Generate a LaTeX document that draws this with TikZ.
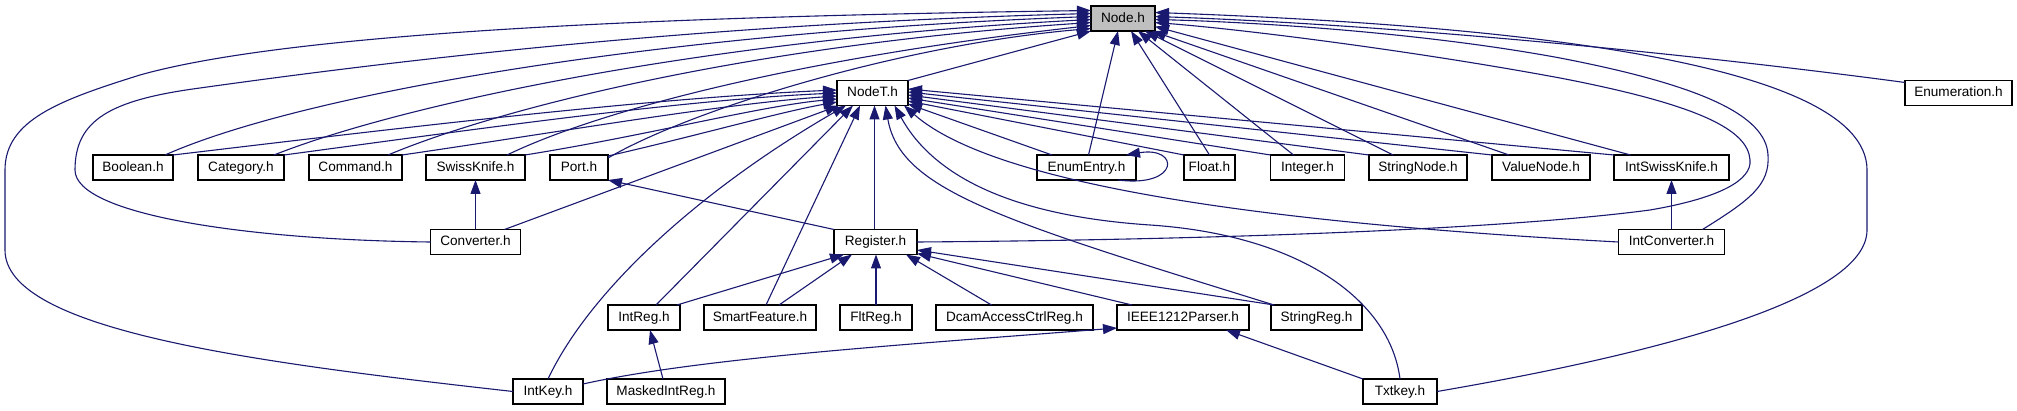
\documentclass[tikz,border=0pt]{standalone}
\usepackage{fontspec}
\setmainfont{Liberation Sans}
\usetikzlibrary{arrows.meta,calc}
\definecolor{edgecol}{HTML}{191970}
\definecolor{rootfill}{HTML}{BFBFBF}
\begin{document}
\begin{tikzpicture}[x=1pt,y=-1pt,
  box/.style={draw=black,line width=1.5pt,fill=white,minimum height=25pt,inner sep=0pt,outer sep=0pt,
    text height=9.8pt,text depth=2.6pt,font=\fontsize{13.6}{16}\selectfont},
  dep/.style={draw=edgecol,line width=1.1pt,-{Triangle[length=14pt,width=10pt]}}]
\fill[white] (0,0) rectangle (2017,411);
\useasboundingbox (0,0) rectangle (2017,411);
% nodes
\node[box,fill=rootfill,minimum width=64pt] (nodeh) at (1123,18.5) {Node.h};
\node[box,minimum width=71pt] (nodet) at (872.5,93) {NodeT.h};
\node[box,minimum width=107pt] (enumeration) at (1958.5,93) {Enumeration.h};
\node[box,minimum width=80pt] (boolean) at (133,167.5) {Boolean.h};
\node[box,minimum width=86pt] (category) at (241,167.5) {Category.h};
\node[box,minimum width=93pt] (command) at (355.5,167.5) {Command.h};
\node[box,minimum width=99pt] (swissknife) at (475.5,167.5) {SwissKnife.h};
\node[box,minimum width=58pt] (port) at (579,167.5) {Port.h};
\node[box,minimum width=99pt] (enumentry) at (1086.5,167.5) {EnumEntry.h};
\node[box,minimum width=51pt] (float) at (1209.5,167.5) {Float.h};
\node[box,minimum width=74pt] (integer) at (1307.5,167.5) {Integer.h};
\node[box,minimum width=98pt] (stringnode) at (1418,167.5) {StringNode.h};
\node[box,minimum width=98pt] (valuenode) at (1541,167.5) {ValueNode.h};
\node[box,minimum width=115pt] (intsk) at (1671.5,167.5) {IntSwissKnife.h};
\node[box,minimum width=90pt] (converter) at (475.5,242) {Converter.h};
\node[box,minimum width=83pt] (register) at (875.5,242) {Register.h};
\node[box,minimum width=106pt] (intconv) at (1671.5,242) {IntConverter.h};
\node[box,minimum width=72pt] (intreg) at (644,317.5) {IntReg.h};
\node[box,minimum width=112pt] (smartfeature) at (760,317.5) {SmartFeature.h};
\node[box,minimum width=72pt] (fltreg) at (876,317.5) {FltReg.h};
\node[box,minimum width=157pt] (dcam) at (1014.5,317.5) {DcamAccessCtrlReg.h};
\node[box,minimum width=132pt] (ieee) at (1183,317.5) {IEEE1212Parser.h};
\node[box,minimum width=91pt] (stringreg) at (1316.5,317.5) {StringReg.h};
\node[box,minimum width=70pt] (intkey) at (548,391.5) {IntKey.h};
\node[box,minimum width=118pt] (masked) at (666,391.5) {MaskedIntReg.h};
\node[box,minimum width=74pt] (txtkey) at (1400,391.5) {Txtkey.h};
% edges into Node.h from the left
\draw[dep] (intkey.west) .. controls (250,362) and (5,330) .. (5,250) -- (5,170) .. controls (5,120) and (60,100) .. (140,75) .. controls (300,30) and (700,16) .. ($(nodeh.west)+(0,-8)$);
\draw[dep] (converter.west) .. controls (250,240) and (75,215) .. (75,170) .. controls (75,120) and (110,100) .. (200,88) .. controls (400,60) and (700,24) .. ($(nodeh.west)+(0,-5)$);
\draw[dep] ($(boolean.north east)+(-8,0)$) .. controls (300,95) and (650,33) .. ($(nodeh.west)+(0,-2)$);
\draw[dep] ($(category.north east)+(-10,0)$) .. controls (400,105) and (700,40) .. ($(nodeh.west)+(0,1)$);
\draw[dep] ($(command.north east)+(-14,0)$) .. controls (500,108) and (750,45) .. ($(nodeh.west)+(0,4)$);
\draw[dep] ($(swissknife.north east)+(-18,0)$) .. controls (600,110) and (800,58) .. ($(nodeh.west)+(0,7)$);
\draw[dep] ($(port.north east)+(0,3)$) .. controls (690,110) and (900,45) .. ($(nodeh.west)+(0,10)$);
\draw[dep] (nodet.north east) -- (nodeh.south west);
% edges into Node.h from below / right
\draw[dep] ($(enumentry.north)+(2,0)$) -- ($(nodeh.south)+(-5,0)$);
\draw[dep] (float.north) -- ($(nodeh.south)+(8,0)$);
\draw[dep] ($(integer.north)+(-14,0)$) -- ($(nodeh.south)+(15,0)$);
\draw[dep] ($(stringnode.north)+(-25,0)$) -- ($(nodeh.south)+(22,0)$);
\draw[dep] ($(valuenode.north)+(-32,0)$) -- ($(nodeh.south east)+(-3,0)$);
\draw[dep] ($(intsk.north)+(-41,0)$) -- ($(nodeh.east)+(0,8)$);
\draw[dep] (register.east) .. controls (1200,240) and (1500,230) .. (1650,210) .. controls (1720,198) and (1752,180) .. (1750,160) .. controls (1748,130) and (1700,105) .. (1560,78) .. controls (1420,52) and (1250,30) .. ($(nodeh.east)+(0,4)$);
\draw[dep] ($(intconv.north east)+(-22,0)$) .. controls (1750,200) and (1770,185) .. (1768,155) .. controls (1766,115) and (1700,85) .. (1560,58) .. controls (1420,32) and (1250,22) .. ($(nodeh.east)+(0,1)$);
\draw[dep] (txtkey.east) .. controls (1650,355) and (1867,300) .. (1867,230) -- (1867,170) .. controls (1867,60) and (1500,25) .. ($(nodeh.east)+(0,-6)$);
\draw[dep] ($(enumeration.north west)+(0,2)$) .. controls (1700,55) and (1400,25) .. ($(nodeh.east)+(0,-2)$);
% edges into NodeT.h from the left
\draw[dep] (boolean.north east) .. controls (400,128) and (650,98) .. ($(nodet.west)+(0,-3)$);
\draw[dep] (category.north east) .. controls (470,130) and (680,100) .. (nodet.west);
\draw[dep] (command.north east) .. controls (560,132) and (720,104) .. ($(nodet.west)+(0,3)$);
\draw[dep] (swissknife.north east) .. controls (650,135) and (760,106) .. ($(nodet.west)+(0,6)$);
\draw[dep] ($(port.north east)+(0,1)$) .. controls (700,135) and (780,112) .. ($(nodet.west)+(0,9)$);
\draw[dep] ($(converter.north east)+(-16,0)$) -- ($(nodet.south west)+(2,0)$);
% edges into NodeT.h from below
\draw[dep] (intkey.north) .. controls (590,290) and (700,190) .. ($(nodet.south west)+(9,0)$);
\draw[dep] ($(intreg.north east)+(-24,0)$) -- ($(nodet.south west)+(16,0)$);
\draw[dep] ($(smartfeature.north)+(6,0)$) -- ($(nodet.south west)+(23,0)$);
\draw[dep] ($(register.north)+(-1,0)$) -- ($(register.north |- nodet.south)+(-1,0)$);
\draw[dep] ($(stringreg.north west)+(3,0)$) .. controls (1000,220) and (900,190) .. ($(nodet.south)+(13,0)$);
\draw[dep] (txtkey.north) .. controls (1390,300) and (1300,235) .. (1150,225) .. controls (1000,215) and (930,170) .. ($(nodet.south)+(22,0)$);
\draw[dep] (intconv.west) .. controls (1300,225) and (1000,190) .. ($(nodet.south east)+(-4,0)$);
% edges into NodeT.h from the right
\draw[dep] ($(enumentry.north west)+(15,0)$) -- ($(nodet.east)+(0,11)$);
\draw[dep] (float.north west) -- ($(nodet.east)+(0,8)$);
\draw[dep] (integer.north west) -- ($(nodet.east)+(0,5)$);
\draw[dep] (stringnode.north west) -- ($(nodet.east)+(0,2)$);
\draw[dep] (valuenode.north west) -- ($(nodet.east)+(0,-1)$);
\draw[dep] (intsk.north west) -- ($(nodet.east)+(0,-4)$);
% self loop
\draw[dep] ($(enumentry.south east)+(-18,0)$) .. controls (1180,188) and (1180,146) .. ($(enumentry.north east)+(-10,0)$);
% edges into Register.h
\draw[dep] ($(intreg.north east)+(-3,0)$) -- ($(register.south west)+(10,0)$);
\draw[dep] ($(smartfeature.north)+(19,0)$) -- ($(register.south west)+(18,0)$);
\draw[dep] (fltreg.north) -- (fltreg.north |- register.south);
\draw[dep] ($(dcam.north)+(-23,0)$) -- ($(register.south east)+(-11,0)$);
\draw[dep] ($(ieee.north west)+(15,0)$) -- ($(register.south east)+(0,-1)$);
\draw[dep] ($(stringreg.north west)+(3,0)$) -- ($(register.east)+(0,8)$);
% remaining edges
\draw[dep] ($(masked.north)+(-3,0)$) -- ($(intreg.south)+(6,0)$);
\draw[dep] ($(intkey.north east)+(0,5)$) .. controls (700,358) and (900,345) .. ($(ieee.south west)+(0,-2)$);
\draw[dep] (txtkey.north west) -- ($(ieee.south)+(43,0)$);
\draw[dep] (register.north west) -- (port.south east);
\draw[dep] (converter.north) -- (converter.north |- swissknife.south);
\draw[dep] (intconv.north) -- (intconv.north |- intsk.south);
\end{tikzpicture}
\end{document}
